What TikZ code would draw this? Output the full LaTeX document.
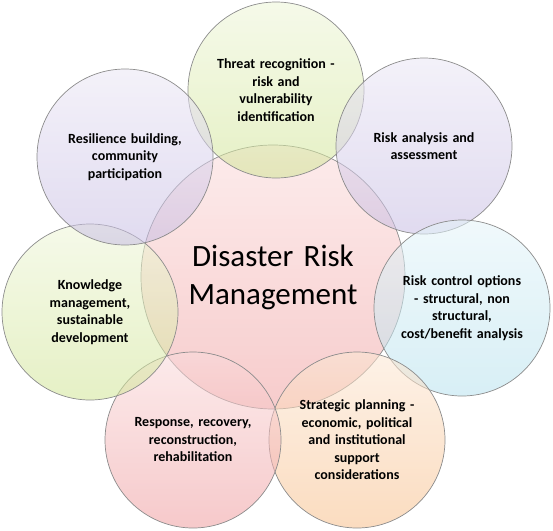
\documentclass[tikz,border=0pt]{standalone}
\usepackage{fontspec}
\setmainfont{Carlito}
\usepackage{tikz}
\usepackage{xcolor}
\definecolor{petalgreen}{HTML}{C5DE7B}
\definecolor{petallilac}{HTML}{B9ACDC}
\definecolor{petalblue}{HTML}{A5DAE9}
\definecolor{petalpeach}{HTML}{F5AF6E}
\definecolor{petalpink}{HTML}{EB8487}
\definecolor{corepink}{HTML}{ED8A8A}

\begin{document}
\begin{tikzpicture}[x=1pt, y=-1pt]
        % Définition des styles
        \tikzset{
            petal/.style={circle, draw=black!45, line width=0.7pt, minimum size=176pt,
                         inner sep=0pt, fill opacity=0.55, text opacity=1, text width=135pt,
                         align=center, font=\fontsize{14}{17.5}\selectfont\bfseries},
            core/.style={circle, draw=black!45, line width=0.7pt, minimum size=264pt,
                         inner sep=0pt, fill opacity=0.55, text opacity=1, text width=200pt,
                         align=center, font=\fontsize{31}{38}\selectfont},
            shadeof/.style={top color=#1!30!white, bottom color=#1!80!white}
        }
        \useasboundingbox (0,0) rectangle (553,530);

        % Cercle central
        \node[core, shadeof=corepink] (drm) at (273,277) {Disaster Risk\\Management};

        % Cercles autour
        \node[petal, shadeof=petalgreen] (threat) at (276,90)
            {Threat recognition -\\risk and\\vulnerability\\identification};
        \node[petal, shadeof=petallilac] (analysis) at (424,146)
            {Risk analysis and\\assessment};
        \node[petal, shadeof=petalblue] (control) at (462,308)
            {Risk control options\\- structural, non\\structural,\\cost/benefit analysis};
        \node[petal, shadeof=petalpeach] (strategic) at (357,440)
            {Strategic planning -\\economic, political\\and institutional\\support\\considerations};
        \node[petal, shadeof=petalpink] (response) at (193,440)
            {Response, recovery,\\reconstruction,\\rehabilitation};
        \node[petal, shadeof=petalgreen] (knowledge) at (90,312)
            {Knowledge\\management,\\sustainable\\development};
        \node[petal, shadeof=petallilac] (resilience) at (125,157)
            {Resilience building,\\community\\participation};
    \end{tikzpicture}
\end{document}
